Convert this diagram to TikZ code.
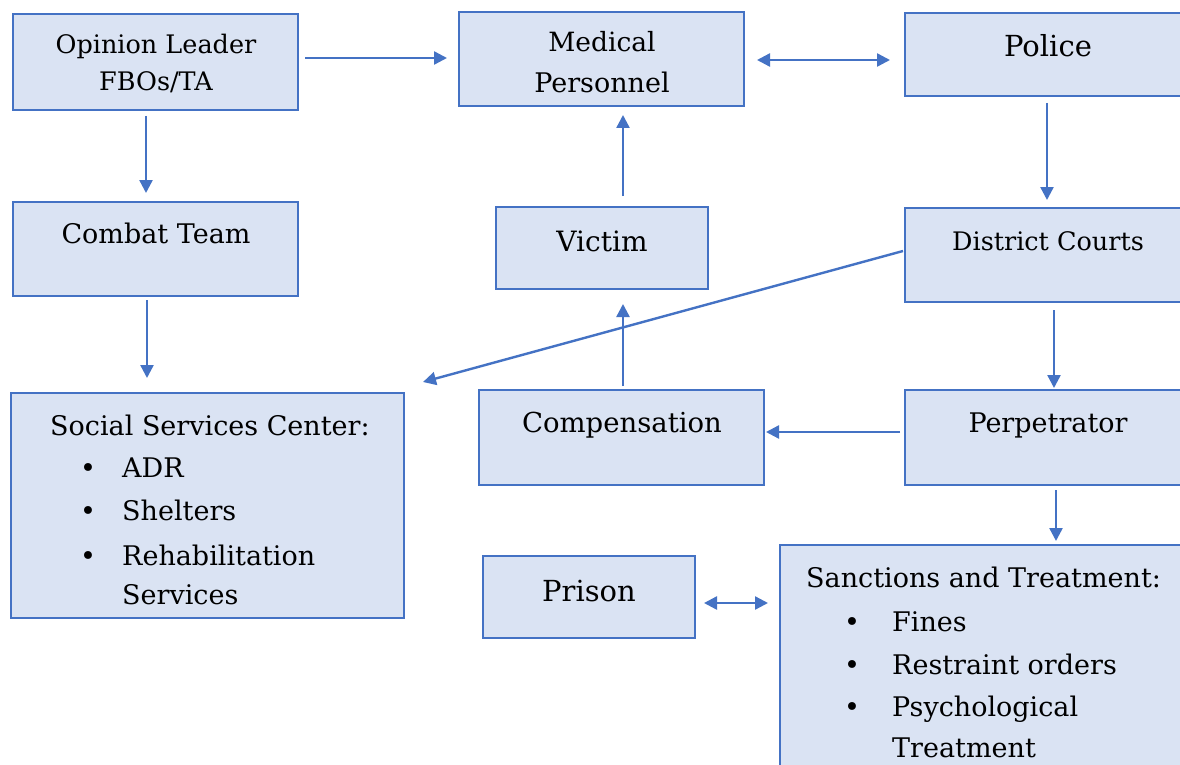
\documentclass[tikz,border=0pt]{standalone}
\usepackage{fontspec}
\setmainfont{DejaVu Serif}
\usetikzlibrary{arrows.meta,calc}
\definecolor{bfill}{HTML}{DAE3F3}
\definecolor{bline}{HTML}{4472C4}
\tikzset{
  box/.style={draw=bline,fill=bfill,line width=2.6pt,inner sep=0pt,outer sep=0pt},
  arr/.style={draw=bline,line width=2.4pt,-{Triangle[length=13pt,width=13pt]}},
  darr/.style={draw=bline,line width=2.4pt,{Triangle[length=13pt,width=13pt]}-{Triangle[length=13pt,width=13pt]}},
  txt/.style={inner sep=0pt,anchor=base,text=black},
  ltxt/.style={inner sep=0pt,anchor=base west,text=black},
  bul/.style={inner sep=0pt,anchor=base,text=black},
  fs/.style={font=\fontsize{#1pt}{#1pt}\selectfont}
}
\begin{document}
\begin{tikzpicture}[x=1pt,y=-1pt]
\useasboundingbox (0,0) rectangle (1180,765);
\fill[white] (0,0) rectangle (1180,765);
\clip (0,0) rectangle (1180,765);
% boxes
\node[box,minimum width=285pt,minimum height=96pt] (opl) at (155.5,62) {};
\node[box,minimum width=285pt,minimum height=94pt] (med) at (601.5,59) {};
\node[box,minimum width=285pt,minimum height=83pt] (pol) at (1047.5,54.5) {};
\node[box,minimum width=285pt,minimum height=94pt] (cmb) at (155.5,249) {};
\node[box,minimum width=212pt,minimum height=82pt] (vic) at (602,248) {};
\node[box,minimum width=285pt,minimum height=94pt] (dis) at (1047.5,255) {};
\node[box,minimum width=393pt,minimum height=225pt] (soc) at (207.5,505.5) {};
\node[box,minimum width=285pt,minimum height=95pt] (cmp) at (621.5,437.5) {};
\node[box,minimum width=285pt,minimum height=95pt] (per) at (1047.5,437.5) {};
\node[box,minimum width=212pt,minimum height=82pt] (pri) at (589,597) {};
\node[box,minimum width=410pt,minimum height=245pt] (san) at (985,667.5) {};
% texts
\node[txt,fs=25.5] (t1a) at (156,54) {Opinion Leader};
\node[txt,fs=25.5] (t1b) at (156,91) {FBOs/TA};
\node[txt,fs=26.5] (t2a) at (602,52) {Medical};
\node[txt,fs=27] (t2b) at (602,93) {Personnel};
\node[txt,fs=29] (t3) at (1048,57) {Police};
\node[txt,fs=27] (t4) at (156,243) {Combat Team};
\node[txt,fs=28] (t5) at (602,251) {Victim};
\node[txt,fs=25.5] (t6) at (1048,250) {District Courts};
\node[txt,fs=27.5] (t8) at (622,432) {Compensation};
\node[txt,fs=27] (t9) at (1048,432) {Perpetrator};
\node[txt,fs=29] (t10) at (589,601) {Prison};
% social services list
\node[ltxt,fs=27] (s0) at (50,435) {Social Services Center:};
\node[bul,fs=27] (sb1) at (88,477) {•};
\node[ltxt,fs=27] (s1) at (122,477) {ADR};
\node[bul,fs=27] (sb2) at (88,520) {•};
\node[ltxt,fs=27] (s2) at (122,520) {Shelters};
\node[bul,fs=27] (sb3) at (88,565) {•};
\node[ltxt,fs=27] (s3) at (122,565) {Rehabilitation};
\node[ltxt,fs=27] (s4) at (122,604) {Services};
% sanctions list
\node[ltxt,fs=27] (n0) at (806,587) {Sanctions and Treatment:};
\node[bul,fs=27] (nb1) at (852,631) {•};
\node[ltxt,fs=27] (n1) at (892,631) {Fines};
\node[bul,fs=27] (nb2) at (852,674) {•};
\node[ltxt,fs=27] (n2) at (892,674) {Restraint orders};
\node[bul,fs=27] (nb3) at (852,716) {•};
\node[ltxt,fs=27] (n3) at (892,716) {Psychological};
\node[ltxt,fs=27] (n4) at (892,757) {Treatment};
% connectors
\draw[arr] ($(opl.east)+(7,-4)$) -- ($(med.west)+(-12,-1)$);
\draw[darr] ($(med.east)+(13,1)$) -- ($(pol.west)+(-15,5.5)$);
\draw[arr] ($(opl.south)+(-9.5,6)$) -- ($(cmb.north)+(-9.5,-9)$);
\draw[arr] ($(vic.north)+(21,-11)$) -- ($(med.south)+(21.5,9)$);
\draw[arr] ($(pol.south)+(-0.5,7)$) -- ($(dis.north)+(-0.5,-8)$);
\draw[arr] ($(cmb.south)+(-8.5,4)$) -- ($(soc.north)+(-60.5,-15)$);
\draw[arr] ($(dis.west)+(-2,-4)$) -- ($(soc.north east)+(19,-11)$);
\draw[arr] ($(cmp.north)+(1.5,-4)$) -- ($(vic.south)+(21,15)$);
\draw[arr] ($(dis.south)+(6.5,8)$) -- ($(per.north)+(6.5,-2)$);
\draw[arr] ($(per.west)+(-5,-5.5)$) -- ($(cmp.east)+(2,-5.5)$);
\draw[arr] ($(per.south)+(8.5,5)$) -- ($(san.north)+(71,-4)$);
\draw[darr] ($(pri.east)+(9,6)$) -- ($(san.west)+(-12,-64.5)$);
\end{tikzpicture}
\end{document}
